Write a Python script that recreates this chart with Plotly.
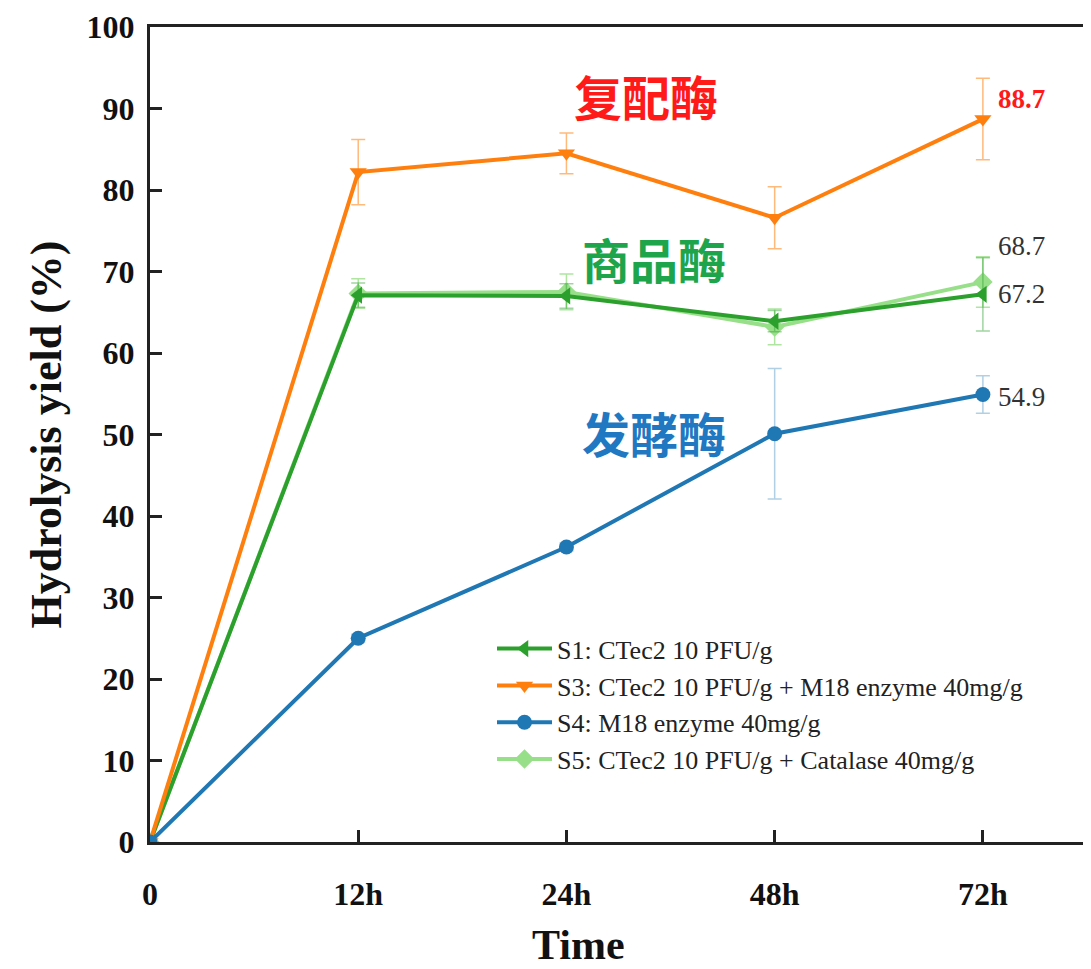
import plotly.graph_objects as go

categories = ["0", "12h", "24h", "48h", "72h"]
x_pos = [0, 1, 2, 3, 4]

s1_vals = [0, 67.1, 67.0, 63.9, 67.2]
s1_err = [0, 1.5, 1.5, 1.3, 4.5]
s3_vals = [0, 82.2, 84.5, 76.6, 88.7]
s3_err = [0, 4.0, 2.5, 3.8, 5.0]
s4_vals = [0, 25.0, 36.2, 50.1, 54.9]
s4_err = [0, 0.5, 0.5, 8.0, 2.3]
s5_vals = [0, 67.3, 67.5, 63.2, 68.7]
s5_err = [0, 1.8, 2.2, 2.2, 3.1]

series = [
    ("S1: CTec2 10 PFU/g", s1_vals, s1_err, "#2ca02c", "rgba(44,160,44,0.45)", "triangle-left"),
    ("S3: CTec2 10 PFU/g + M18 enzyme 40mg/g", s3_vals, s3_err, "#ff7f0e", "rgba(255,127,14,0.55)", "triangle-down"),
    ("S4: M18 enzyme 40mg/g", s4_vals, s4_err, "#1f77b4", "rgba(31,119,180,0.35)", "circle"),
    ("S5: CTec2 10 PFU/g + Catalase 40mg/g", s5_vals, s5_err, "#98df8a", "rgba(152,223,138,0.8)", "diamond"),
]

SERIF = "Liberation Serif, Times New Roman, serif"

fig = go.Figure()
order = [3, 0, 1, 2]
for i in order:
    name, vals, err, col, ecol, sym = series[i]
    fig.add_trace(go.Scatter(
        x=x_pos, y=vals, name=name, mode="lines+markers",
        line=dict(color=col, width=4),
        marker=dict(symbol=sym, size=15, color=col),
        error_y=dict(type="data", array=err, visible=True, color=ecol, thickness=1.5, width=7),
        legendrank=i + 1,
    ))

label_font = dict(family=SERIF, size=27)
cn_font = "Noto Sans CJK SC"

annotations = [
    dict(x=2.38, y=91.7, text="<b>复配酶</b>", font=dict(family=cn_font, size=48, color="#ff1a1a")),
    dict(x=2.42, y=71.7, text="<b>商品酶</b>", font=dict(family=cn_font, size=48, color="#1ea54c")),
    dict(x=2.42, y=50.3, text="<b>发酵酶</b>", font=dict(family=cn_font, size=48, color="#1f78c1")),
    dict(x=4.065, y=s3_vals[4] + 2.5, text="<b>88.7</b>", xanchor="left", font=dict(label_font, color="#ff1a1a")),
    dict(x=4.065, y=s5_vals[4] + 4.4, text="68.7", xanchor="left", font=dict(label_font, color="#333333")),
    dict(x=4.065, y=s1_vals[4] + 0.1, text="67.2", xanchor="left", font=dict(label_font, color="#333333")),
    dict(x=4.065, y=s4_vals[4] - 0.3, text="54.9", xanchor="left", font=dict(label_font, color="#333333")),
]
for a in annotations:
    a.setdefault("xanchor", "center")
    a.update(xref="x", yref="y", showarrow=False, yanchor="middle")

# x-axis title placed like the reference (slightly left of plot centre)
annotations.append(dict(x=2.06, xref="x", y=-0.126, yref="paper", text="<b>Time</b>", showarrow=False,
                        xanchor="center", yanchor="middle", font=dict(family=SERIF, size=42, color="#111111")))

axis_common = dict(
    showline=True, linecolor="#222222", linewidth=3, mirror=True,
    ticks="inside", ticklen=12, tickwidth=2.5, tickcolor="#222222",
    showgrid=False, zeroline=False,
    tickfont=dict(family=SERIF, size=32, color="#111111"),
)

fig.update_layout(
    width=1083, height=961,
    paper_bgcolor="white", plot_bgcolor="white",
    margin=dict(l=142, r=1, t=19, b=127),
    font=dict(family=SERIF, color="#111111"),
    annotations=annotations,
    legend=dict(
        x=0.365, y=0.266, xanchor="left", yanchor="top",
        bgcolor="rgba(0,0,0,0)", borderwidth=0,
        font=dict(family=SERIF, size=26, color="#222222"),
        tracegroupgap=0, itemwidth=55,
    ),
    xaxis=dict(axis_common, range=[0, 4.5], tickvals=x_pos, ticktext=["<b>%s</b>" % c for c in categories],
               ticklabelstandoff=22),
    yaxis=dict(axis_common, range=[0, 100], tickvals=list(range(0, 101, 10)),
               ticktext=["<b>%d</b>" % v for v in range(0, 101, 10)], ticklabelstandoff=6,
               title=dict(text="<b>Hydrolysis yield (%)</b>", font=dict(size=44, family=SERIF), standoff=12)),
)

fig.write_html("out.html")
